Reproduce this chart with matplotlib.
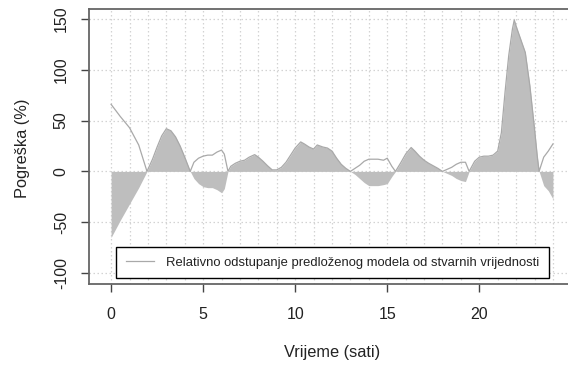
import numpy as np
import matplotlib.pyplot as plt

plt.rcParams.update({
    'font.family': ['Liberation Sans', 'DejaVu Sans'],
    'font.size': 11,
})

# Time points (hours) and relative deviation (%)
hours = [0, 0.5, 1, 1.5, 1.95, 2.25, 2.5, 2.75, 3.0, 3.25, 3.5, 3.75, 4.0, 4.3,
         4.5, 4.75, 5.0, 5.25, 5.5, 5.75, 6.0, 6.15, 6.35, 6.5, 6.75, 7.0, 7.25,
         7.5, 7.8, 8.0, 8.25, 8.5, 8.75, 9.0, 9.25, 9.5, 9.75, 10.0, 10.3, 10.5,
         10.75, 11.0, 11.2, 11.5, 11.75, 12.0, 12.25, 12.5, 12.75, 13.0, 13.25,
         13.5, 13.75, 14.0, 14.5, 14.8, 15.0, 15.25, 15.45, 15.75, 16.0, 16.3,
         16.5, 16.75, 17.0, 17.25, 17.5, 17.75, 18.0, 18.25, 18.5, 18.75, 19.0,
         19.25, 19.45, 19.75, 20.0, 20.25, 20.5, 20.75, 21.0, 21.2, 21.4, 21.6,
         21.8, 21.9, 22.0, 22.25, 22.5, 22.75, 23.0, 23.15, 23.25, 23.5, 23.75, 24.0]

# signed error (filled area)
err_signed = [-65, -48, -32, -16, 0, 12, 24, 35, 42, 40, 34, 25, 14, 0,
              -7, -12, -15, -16, -16, -18, -21, -17, 0, 5, 8, 10, 11,
              14, 16.5, 14, 10, 5.5, 1.5, 1.5, 4, 9, 16, 23, 29, 27,
              24, 22, 26, 24, 23, 20, 13, 7, 3, 0, -3,
              -7, -11, -14, -14, -13, -12, -5, 0, 9, 17, 23.5,
              20, 15, 11, 8, 5.5, 3, 0, -2, -4, -7, -9,
              -10, 0, 10, 14, 15, 15, 16, 20, 38, 78, 114,
              140, 149, 143, 130, 117, 84, 42, 15, 0, -14, -19, -27]

# relative deviation line
err_line = [66, 54, 43, 26, 0, 12, 24, 35, 42, 40, 34, 25, 14, 0,
            9, 13, 15, 16, 16, 19, 21, 17, 0, 5, 8, 10, 11,
            14, 16.5, 14, 10, 5.5, 1.5, 1.5, 4, 9, 16, 23, 29, 27,
            24, 22, 26, 24, 23, 20, 13, 7, 3, 0, 3,
            6, 10, 12, 12, 11, 13, 5, 0, 9, 17, 23.5,
            20, 15, 11, 8, 5.5, 3, 0, 2, 4, 7, 9,
            9, 0, 10, 14, 15, 15, 16, 20, 38, 78, 114,
            140, 149, 143, 130, 117, 84, 42, 15, 0, 14, 20, 27]

x_ticks = [0, 5, 10, 15, 20]
y_ticks = [-100, -50, 0, 50, 100, 150]
legend_label = 'Relativno odstupanje predloženog modela od stvarnih vrijednosti'

W, H = 568, 372
fig = plt.figure(figsize=(W / 100, H / 100), dpi=100)
ax = fig.add_axes([89 / W, 1 - 284 / H, (575 - 89) / W, (284 - 9) / H])

ax.set_xlim(-1.2, 25.2)
ax.set_ylim(-110.8, 159.8)

# dotted grid
for gx in range(0, 25):
    ax.axvline(gx, color='#d3d3d3', lw=0.9, ls=(0, (1.2, 2)), zorder=0)
for gy in y_ticks:
    ax.axhline(gy, color='#d3d3d3', lw=0.9, ls=(0, (1.2, 2)), zorder=0)

ax.fill_between(hours, 0, err_signed, color='#bebebe', lw=0, zorder=1)
ax.plot(hours, err_line, color='#a9a9a9', lw=0.9, zorder=2, label=legend_label)

ax.set_xticks(x_ticks)
ax.set_yticks(y_ticks)
ax.set_yticklabels([str(v) for v in y_ticks], rotation=90, va='center')
ax.tick_params(direction='out', length=6, width=1, color='#444444',
               labelcolor='#222222', labelsize=11.5)
ax.tick_params(axis='x', pad=10.5)
ax.tick_params(axis='y', pad=8.5)
for s in ax.spines.values():
    s.set_color('#666666')
    s.set_linewidth(1.3)

fig.text(332 / W, 1 - 352 / H, 'Vrijeme (sati)', ha='center', va='center',
         fontsize=11.8, color='#222222')
fig.text(23 / W, 1 - 148 / H, 'Pogreška (%)', ha='center', va='center',
         rotation=90, fontsize=11.8, color='#222222')

leg = ax.legend(loc='center', bbox_to_anchor=(332.5 / W, 1 - 262.5 / H),
                bbox_transform=fig.transFigure, fontsize=9.4, frameon=True,
                fancybox=False, edgecolor='black', framealpha=1,
                handlelength=2.2, handletextpad=0.9, borderpad=0.75)
leg.get_frame().set_linewidth(1.0)
for t in leg.get_texts():
    t.set_color('#222222')

fig.savefig('out.png', dpi=100)
